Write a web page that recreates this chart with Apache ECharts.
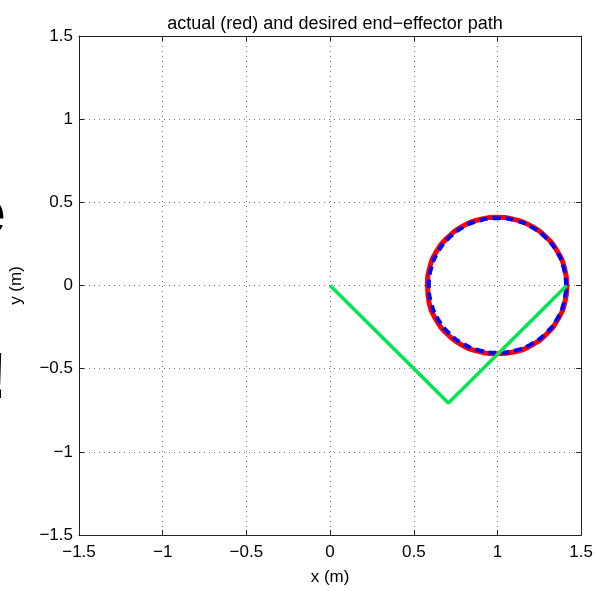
<!DOCTYPE html>
<html>
<head>
<meta charset="utf-8">
<script src="https://cdn.jsdelivr.net/npm/echarts@6/dist/echarts.min.js"></script>
<style>html,body{margin:0;padding:0;background:#fff;overflow:hidden;}#c{width:596px;height:591px;}</style>
</head>
<body>
<div id="c"></div>
<script>
// Data
var titleText = 'actual (red) and desired end\u2212effector path';
var xName = 'x (m)';
var yName = 'y (m)';
var axisMin = -1.5, axisMax = 1.5, axisStep = 0.5;

// Actual end-effector path (red)
var actualX = [1.415,1.400,1.358,1.292,1.205,1.104,1.000,0.892,0.790,0.702,0.636,0.595,0.582,0.592,0.634,0.700,0.785,0.885,0.995,1.105,1.208,1.295,1.360,1.402,1.415];
var actualY = [0.000,0.107,0.205,0.290,0.355,0.396,0.410,0.396,0.355,0.288,0.205,0.108,0.000,-0.108,-0.208,-0.292,-0.356,-0.396,-0.410,-0.398,-0.356,-0.290,-0.205,-0.104,0.000];

// Desired end-effector path (blue dashed)
var desiredX = [1.410,1.396,1.355,1.290,1.205,1.106,1.000,0.894,0.795,0.710,0.645,0.604,0.590,0.604,0.645,0.710,0.795,0.894,1.000,1.106,1.205,1.290,1.355,1.396,1.410];
var desiredY = [0.000,0.105,0.203,0.286,0.351,0.391,0.405,0.391,0.351,0.286,0.203,0.105,0.000,-0.105,-0.203,-0.286,-0.351,-0.391,-0.405,-0.391,-0.351,-0.286,-0.203,-0.105,0.000];

// Robot arm links (green)
var armX = [0, 0.707, 1.414];
var armY = [0, -0.707, 0];

function pairs(xs, ys){ var o=[]; for (var i=0;i<xs.length;i++) o.push([xs[i], ys[i]]); return o; }
function fmt(v){ var s = (Math.round(v*10)/10).toString(); return s.replace('-', '\u2212'); }

var FONT = 'Liberation Sans';
var chart = echarts.init(document.getElementById('c'), null, {renderer:'canvas'});

var baseAxis = {
  type:'value', min:axisMin, max:axisMax, interval:axisStep,
  axisLine:{show:true, onZero:false, lineStyle:{color:'#222', width:1}},
  axisTick:{show:true, inside:true, length:5, lineStyle:{color:'#222'}},
  splitLine:{show:false}
};

chart.setOption({
  animation:false,
  backgroundColor:'#fff',
  title:{text:titleText, left:330, textAlign:'center', top:10,
         textStyle:{fontFamily:FONT, fontSize:18, fontWeight:'normal', color:'#000'}},
  grid:{left:77, right:13, top:36, bottom:48, containLabel:false},
  graphic:[
    {type:'text', left:-30, top:184, style:{text:'e', font:'bold 64px "Liberation Sans"', fill:'#000'}},
    {type:'text', left:-14, top:348, style:{text:'!', font:'bold 64px "Liberation Sans"', fill:'#000'}}
  ],
  xAxis:[
    Object.assign({}, baseAxis, {
      position:'bottom', name:xName, nameLocation:'middle', nameGap:34,
      nameTextStyle:{fontFamily:FONT, fontSize:17, color:'#000'},
      axisLabel:{fontFamily:FONT, fontSize:17, color:'#000', margin:9, formatter:fmt},
      splitLine:{show:true, lineStyle:{color:'#777', width:1, type:[1,4]}}
    }),
    Object.assign({}, baseAxis, {position:'top', axisLabel:{show:false}})
  ],
  yAxis:[
    Object.assign({}, baseAxis, {
      position:'left', name:yName, nameLocation:'middle', nameGap:54,
      nameTextStyle:{fontFamily:FONT, fontSize:17, color:'#000'},
      axisLabel:{fontFamily:FONT, fontSize:17, color:'#000', margin:6, formatter:fmt},
      splitLine:{show:true, lineStyle:{color:'#777', width:1, type:[1,4]}}
    }),
    Object.assign({}, baseAxis, {position:'right', axisLabel:{show:false}})
  ],
  series:[
    {type:'line', data:pairs(actualX, actualY), smooth:true, showSymbol:false, symbol:'none',
     lineStyle:{color:'#ff0000', width:5}},
    {type:'line', data:pairs(desiredX, desiredY), smooth:true, showSymbol:false, symbol:'none',
     lineStyle:{color:'#0000ff', width:4, type:[8,5]}},
    {type:'line', data:pairs(armX, armY), showSymbol:false, symbol:'none',
     lineStyle:{color:'#00e650', width:3.5}}
  ]
});
</script>
</body>
</html>
